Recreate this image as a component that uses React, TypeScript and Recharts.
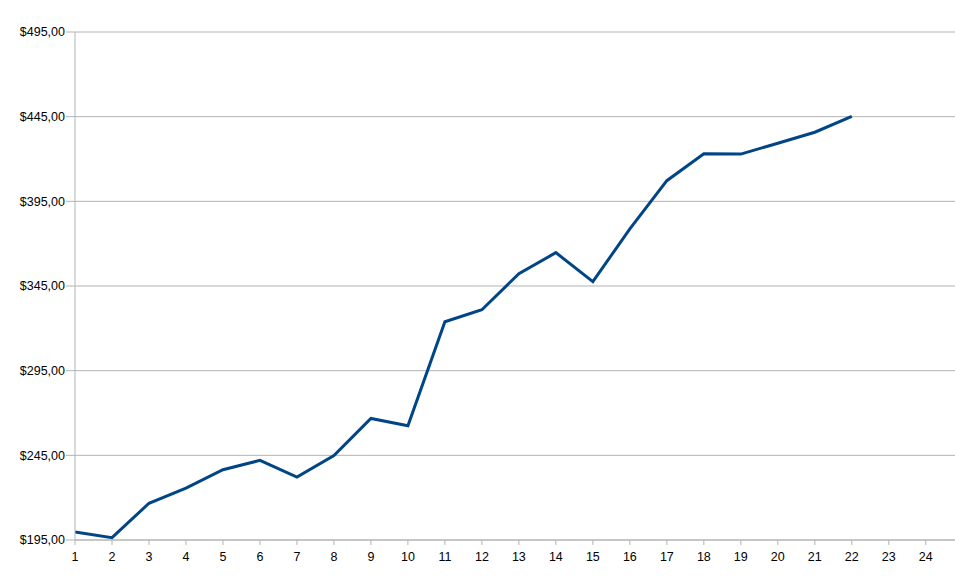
import React from 'react';
import { LineChart, Line, XAxis, YAxis, CartesianGrid } from 'recharts';

const periods = [1, 2, 3, 4, 5, 6, 7, 8, 9, 10, 11, 12, 13, 14, 15, 16, 17, 18, 19, 20, 21, 22];
const prices = [199.7, 196.4, 216.7, 225.7, 236.5, 242.0, 232.2, 244.9, 266.8, 262.5, 323.9, 331.0, 352.3, 364.7, 347.6, 378.7, 407.2, 423.1, 422.9, 429.3, 435.8, 445.2];
const xTicks = [1, 2, 3, 4, 5, 6, 7, 8, 9, 10, 11, 12, 13, 14, 15, 16, 17, 18, 19, 20, 21, 22, 23, 24];
const yTicks = [195, 245, 295, 345, 395, 445, 495];

const data = periods.map((p, i) => ({ period: p, price: prices[i] }));

const fmt = (v: number) => '$' + v.toFixed(2).replace('.', ',');

export default function App() {
  return (
    <div style={{ position: 'absolute', left: 0, top: 0, background: '#fff' }}>
      <LineChart width={955} height={577} data={data} margin={{ top: 32, right: 0, bottom: 0, left: 0 }}>
        <CartesianGrid vertical={false} stroke="#b3b3b3" />
        <XAxis
          dataKey="period"
          type="number"
          domain={[1, 24.79]}
          allowDataOverflow
          ticks={xTicks}
          interval={0}
          height={37}
          tickSize={5}
          tickMargin={7}
          stroke="#b3b3b3"
          tick={{ fill: '#000', fontSize: 12.5, fontFamily: 'Liberation Sans' }}
        />
        <YAxis
          type="number"
          domain={[195, 495]}
          ticks={yTicks}
          interval={0}
          width={75}
          tickSize={9}
          tickMargin={1}
          tickFormatter={fmt}
          stroke="#b3b3b3"
          tick={{ fill: '#000', fontSize: 12.5, fontFamily: 'Liberation Sans' }}
        />
        <Line
          dataKey="price"
          type="linear"
          stroke="#004586"
          strokeWidth={3}
          dot={false}
          isAnimationActive={false}
        />
      </LineChart>
    </div>
  );
}
